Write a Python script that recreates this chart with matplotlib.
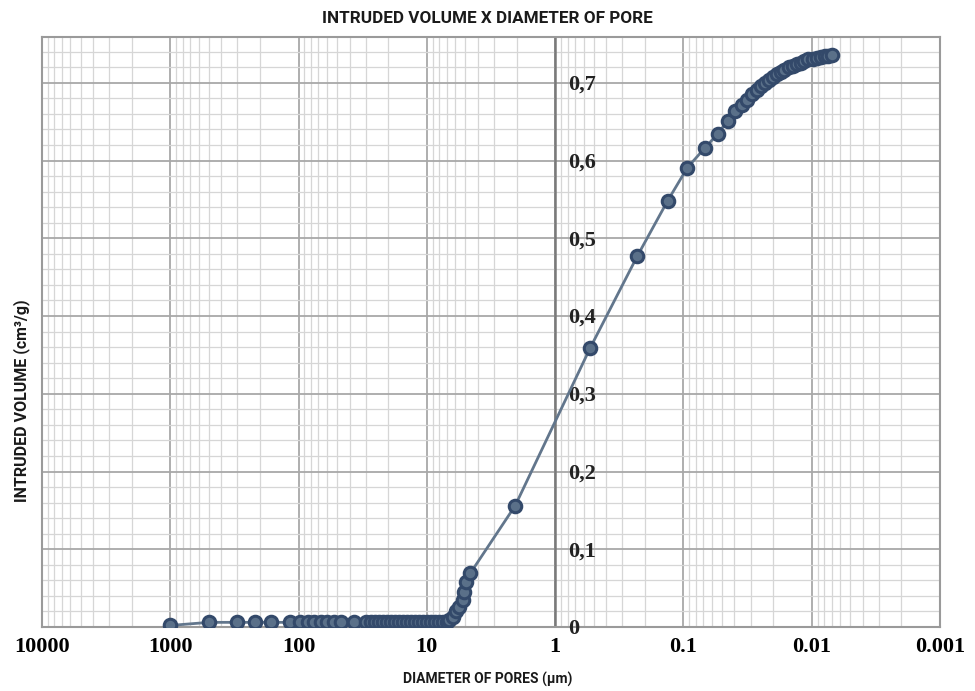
import matplotlib.pyplot as plt
from matplotlib.ticker import LogLocator, MultipleLocator, NullFormatter
from matplotlib import transforms

# data: pore diameter (um) and intruded volume (cm3/g)
diameter = [1000, 500, 300, 220, 163, 117, 98, 85, 76, 67, 60, 53, 47, 37, 30,
            27.4, 25.5, 23.7, 22.1, 20.5, 19.1, 17.8, 16.6, 15.4, 14.3, 13.3,
            12.4, 11.5, 10.7, 10.0, 9.31, 8.66, 8.06, 7.50, 6.98,
            6.73, 6.3, 5.93, 5.60, 5.26, 5.12, 4.96, 4.59,
            2.05, 0.533, 0.229, 0.133, 0.093,
            0.0682, 0.0542, 0.0453, 0.0397, 0.0352, 0.0322, 0.0294,
            0.0269, 0.0250, 0.0233, 0.0217, 0.0202, 0.0188, 0.0175, 0.0163,
            0.0151, 0.0141, 0.0131, 0.0122, 0.0114, 0.0106, 0.0098, 0.0091,
            0.0085, 0.0079, 0.0074, 0.0069]
volume = [0.002, 0.006, 0.006, 0.006, 0.006, 0.006, 0.006, 0.006, 0.006, 0.006,
          0.006, 0.006, 0.006, 0.006, 0.006,
          0.006, 0.006, 0.006, 0.006, 0.006, 0.006, 0.006, 0.006, 0.006, 0.006,
          0.006, 0.006, 0.006, 0.006, 0.006, 0.006, 0.006, 0.007, 0.007, 0.007,
          0.009, 0.013, 0.020, 0.026, 0.035, 0.045, 0.058, 0.069,
          0.156, 0.359, 0.477, 0.548, 0.591,
          0.616, 0.634, 0.651, 0.664, 0.672, 0.678, 0.686,
          0.691, 0.696, 0.700, 0.704, 0.708, 0.711, 0.714, 0.717,
          0.720, 0.722, 0.724, 0.726, 0.728, 0.730, 0.731, 0.732,
          0.733, 0.734, 0.735, 0.736]

x_ticks = [10000, 1000, 100, 10, 1, 0.1, 0.01, 0.001]
x_labels = ["10000", "1000", "100", "10", "1", "0.1", "0.01", "0.001"]
y_ticks = [0, 0.1, 0.2, 0.3, 0.4, 0.5, 0.6, 0.7]
y_labels = ["0", "0,1", "0,2", "0,3", "0,4", "0,5", "0,6", "0,7"]

title_font = ['Roboto', 'DejaVu Sans']
num_font = ['Liberation Serif', 'DejaVu Serif']

fig = plt.figure(figsize=(9.75, 6.91), dpi=100)
ax = fig.add_axes([0.0431, 0.0926, 0.921, 0.854])

ax.set_xscale('log')
ax.set_xlim(10000, 0.001)
ax.set_ylim(0, 0.759)

# grid
ax.xaxis.set_major_locator(LogLocator(base=10, numticks=20))
ax.xaxis.set_minor_locator(LogLocator(base=10, subs=range(2, 10), numticks=100))
ax.xaxis.set_minor_formatter(NullFormatter())
ax.yaxis.set_major_locator(MultipleLocator(0.1))
ax.yaxis.set_minor_locator(MultipleLocator(0.02))
ax.grid(which='major', color='#a8a8a8', linewidth=1.3)
ax.grid(which='minor', color='#d6d6d6', linewidth=0.9)
ax.set_axisbelow(True)

for s in ax.spines.values():
    s.set_color('#9a9a9a')
    s.set_linewidth(1.5)

ax.set_xticks(x_ticks)
ax.set_xticklabels(x_labels, fontfamily=num_font, fontweight='bold', fontsize=16)
ax.tick_params(axis='x', which='both', length=0, pad=7)
ax.tick_params(axis='y', which='both', length=0, labelleft=False)

# y axis drawn at diameter = 1
ax.axvline(1, color='#7a7a7a', linewidth=1.8, zorder=1)
off = transforms.offset_copy(ax.transData, fig=fig, x=13, y=-2, units='dots')
for yv, lab in zip(y_ticks, y_labels):
    ax.text(1, yv, lab, transform=off, ha='left', va='center',
            fontfamily=num_font, fontweight='bold', fontsize=16, color='#222222')

ax.plot(diameter, volume, color='#62768c', linewidth=2, marker='o',
        markersize=9, markerfacecolor='#5a7089', markeredgecolor='#33496a',
        markeredgewidth=2.2, zorder=3)

fig.text(0.5, 0.973, "INTRUDED VOLUME X DIAMETER OF PORE", ha='center', va='center',
         fontfamily=title_font, fontweight='bold', fontsize=12.3, color='#1a1a1a')
fig.text(0.5, 0.016, "DIAMETER OF PORES (µm)", ha='center', va='center',
         fontfamily=title_font, fontweight='bold', fontsize=10, color='#1a1a1a')
fig.text(0.022, 0.42, "INTRUDED VOLUME (cm³/g)", ha='center', va='center',
         rotation=90, fontfamily=title_font, fontweight='bold', fontsize=11.5,
         color='#1a1a1a')

fig.savefig('out.png', dpi=100)
